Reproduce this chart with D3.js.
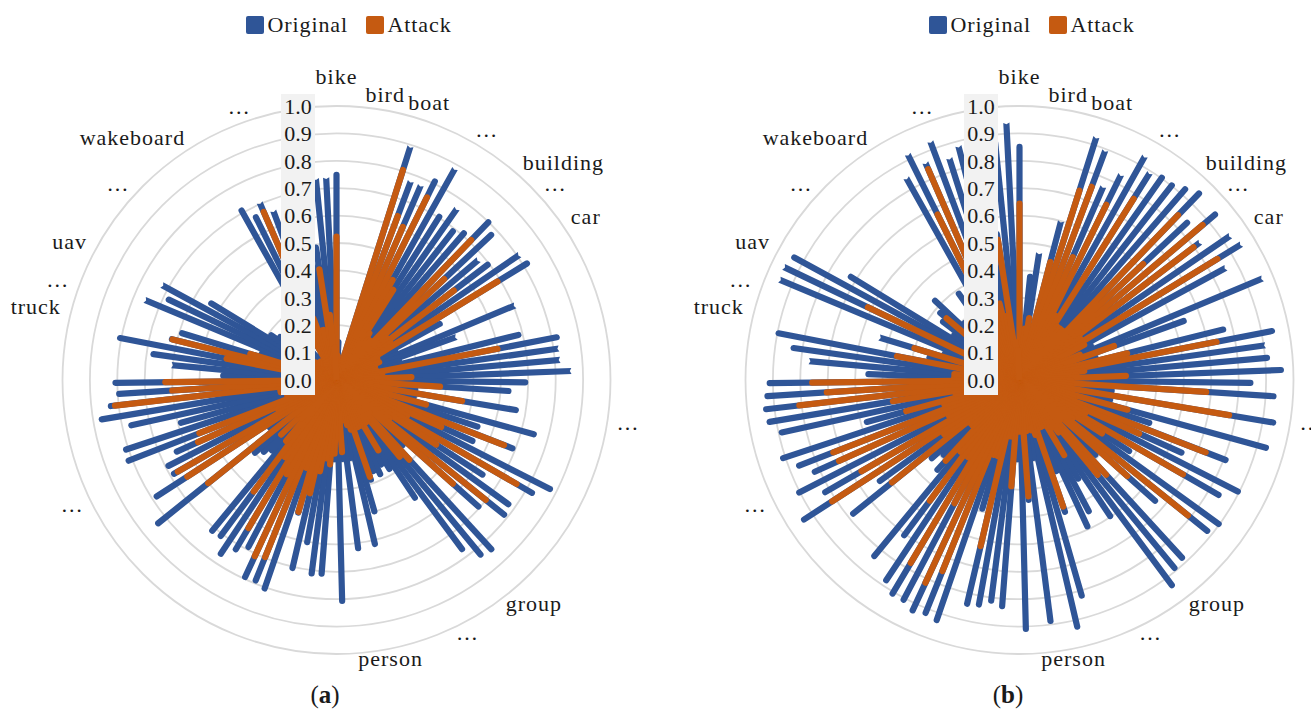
<!DOCTYPE html>
<html>
<head>
<meta charset="utf-8">
<style>
body { margin: 0; background: #fff; }
text { font-family: "Liberation Serif", serif; fill: #1a1a1a; }
</style>
</head>
<body>
<svg width="1311" height="711"></svg>
<script src="https://cdn.jsdelivr.net/npm/d3@7"></script>
<script>

// one value per sequence, clockwise from the top
var originalA = [.76,.15,.06,.05,.06,.07,.895,.775,.775,.82,.885,.715,.765,.70,.72,.81,.785,.68,.705,.81,.826,.44,.25,.707,.466,.25,.695,.83,.82,.82,.858,
  .70,.64,.3,.675,.3,.758,.553,.70,.555,.886,.835,.646,.785,.796,.705,.35,.848,.837,.78,.527,.389,.36,.39,.37,.396,.51,.626,.3,.63,.3,
  .818,.3,.72,.723,.613,.716,.515,.816,.80,.804,.70,.73,.773,.72,.724,.36,.384,.41,.846,.31,.793,.696,.70,.65,.825,.82,.6,.778,.88,.84,.806,
  .818,.425,.605,.686,.816,.63,.60,.3,.759,.69,.726,.547,.3,.27,.25,.2,.2,.15,.12,.1,.1,.72,.674,.706,.66,.5,.5,.5,.5,.74,.74];
var attackA = [.535,.1,.05,.04,.05,.06,.815,.65,.62,.755,.43,.4,.22,.2,.2,.72,.55,.25,.55,.25,.70,.18,.15,.18,.16,.15,.16,.61,.18,.16,.285,
  .14,.39,.16,.476,.16,.35,.2,.667,.43,.3,.77,.445,.25,.71,.58,.18,.405,.374,.2,.2,.31,.2,.2,.2,.385,.2,.18,.16,.15,.275,
  .13,.28,.32,.3,.35,.436,.512,.35,.708,.72,.4,.64,.35,.518,.3,.2,.295,.2,.612,.16,.66,.68,.25,.565,.548,.2,.2,.22,.22,.825,.612,
  .636,.2,.2,.2,.42,.628,.34,.16,.14,.14,.14,.14,.12,.12,.11,.1,.1,.1,.09,.08,.08,.18,.18,.68,.25,.2,.2,.15,.42,.25,.13];
var originalB = [.862,.2,.39,.47,.2,.6,.93,.895,.77,.837,.937,.894,.914,.913,.933,.956,.85,.946,.83,.933,.95,.858,.3,.962,.648,.3,.777,.95,.907,.918,.966,
  .854,.94,.35,.95,.35,.944,.51,.818,.659,.906,.85,.488,.908,.89,.674,.4,.89,.90,.944,.608,.43,.553,.60,.37,.52,.83,.936,.3,.898,.45,
  .92,.3,.839,.823,.844,.85,.5,.938,.928,.938,.918,.918,.889,.717,.844,.455,.4,.44,.79,.64,.948,.83,.914,.83,.874,.92,.589,.90,.936,.942,.933,
  .923,.563,.772,.844,.907,.35,.535,.3,.95,.955,.947,.733,.3,.362,.39,.434,.3,.25,.3,.396,.35,.846,.92,.865,.93,.85,.883,.6,.55,.88,.94];
var attackB = [.655,.15,.2,.24,.15,.456,.736,.764,.50,.725,.28,.793,.25,.25,.25,.846,.63,.887,.81,.28,.858,.28,.17,.25,.378,.17,.416,.744,.25,.22,.4,
  .2,.694,.2,.787,.2,.42,.22,.74,.49,.28,.70,.37,.25,.80,.538,.22,.48,.46,.25,.22,.33,.2,.2,.2,.50,.22,.2,.17,.2,.437,
  .2,.2,.40,.22,.22,.634,.3,.3,.763,.827,.52,.788,.35,.56,.35,.41,.25,.25,.608,.35,.826,.677,.3,.733,.74,.3,.44,.25,.48,.82,.716,
  .768,.25,.25,.22,.467,.2,.412,.17,.22,.625,.22,.2,.14,.14,.36,.17,.14,.12,.14,.14,.17,.25,.685,.85,.3,.3,.3,.25,.53,.15,.12];

// bars whose end is cut in rather than rounded
var notchedA = [6,7,8,10,12,17,19,23,24,28,29,30,94,100,102,115,116,121,122];
var notchedB = [3,5,6,7,8,9,10,11,18,19,20,21,23,28,94,98,100,101,113,114,115,116,117,118,122];

var labelNames = ["bike","bird","boat","…","building","…","car","…","group","…","person","…","truck","…","uav","…","wakeboard","…"];
var labelIndex = [0,2,5,10,14,16,19,34,49,53,60,83,97,99,102,107,112,117];
var ticks = [0,.1,.2,.3,.4,.5,.6,.7,.8,.9,1];
var seriesNames = ["Original","Attack"];
var seriesColors = ["#2f5597","#c55a11"];

var svg = d3.select("svg"),
    outer = 274,
    barWidth = 6.2,
    count = originalA.length;

var r = d3.scaleLinear().domain([0, 1]).range([0, outer]);
var angle = d3.scaleLinear().domain([0, count]).range([0, 360]);

function barPath(v, notched) {
  var h = r(v), w = barWidth / 2;
  if (notched) {
    return "M" + (-w) + ",0V" + (-h) + "L0," + (-h + 1.6) + "L" + w + "," + (-h) + "V0Z";
  }
  return "M" + (-w) + ",0V" + (-h + w) + "A" + w + "," + w + " 0 0 1 " + w + "," + (-h + w) + "V0Z";
}

function drawChart(cx, original, attack, notched, caption) {
  var g = svg.append("g").attr("transform", "translate(" + cx + ",380)");

  g.selectAll(".ring")
    .data(ticks.slice(1))
    .enter().append("circle")
      .attr("r", function(d) { return r(d); })
      .attr("fill", "none")
      .attr("stroke", "#d9d9d9")
      .attr("stroke-width", 1.8);

  g.selectAll(".orig")
    .data(original)
    .enter().append("path")
      .attr("transform", function(d, i) { return "rotate(" + angle(i) + ")"; })
      .attr("d", function(d, i) { return barPath(d, notched.indexOf(i) >= 0); })
      .attr("fill", seriesColors[0]);

  g.selectAll(".atk")
    .data(attack)
    .enter().append("path")
      .attr("transform", function(d, i) { return "rotate(" + angle(i) + ")"; })
      .attr("d", function(d) { return barPath(d, false); })
      .attr("fill", seriesColors[1]);

  // tick labels sit in a grey strip on top of the bars
  g.append("rect")
    .attr("x", -55.5).attr("y", -286)
    .attr("width", 34).attr("height", 301)
    .attr("fill", "#f2f2f2");

  g.selectAll(".tick")
    .data(ticks)
    .enter().append("text")
      .attr("x", -38.5)
      .attr("y", function(d) { return -r(d); })
      .attr("dy", "0.35em")
      .attr("text-anchor", "middle")
      .attr("font-size", 22)
      .text(function(d) { return d.toFixed(1); });

  g.selectAll(".cat")
    .data(labelNames)
    .enter().append("text")
      .attr("x", function(d, i) {
        var a = angle(labelIndex[i]) * Math.PI / 180;
        return 284 * Math.sin(a);
      })
      .attr("y", function(d, i) {
        var a = angle(labelIndex[i]) * Math.PI / 180;
        return -284 * Math.cos(a);
      })
      .attr("dy", function(d, i) {
        var k = labelIndex[i];
        if (k == 0) return "-0.55em";
        return k > 30 && k < 100 ? "0.12em" : "0.22em";
      })
      .attr("text-anchor", function(d, i) {
        var a = angle(labelIndex[i]);
        if (a == 0) return "middle";
        return a < 180 ? "start" : "end";
      })
      .attr("font-size", 22)
      .attr("letter-spacing", 1)
      .text(function(d) { return d; });

  // legend
  var legend = svg.append("g").attr("transform", "translate(" + (cx - 90.5) + ",16)");
  var legendX = [0, 120];
  seriesNames.forEach(function(name, i) {
    legend.append("rect")
      .attr("x", legendX[i]).attr("width", 18).attr("height", 18).attr("rx", 2)
      .attr("fill", seriesColors[i]);
    legend.append("text")
      .attr("x", legendX[i] + 21.5).attr("y", 16)
      .attr("font-size", 22)
      .attr("letter-spacing", 0.9)
      .text(name);
  });

  var cap = svg.append("text")
    .attr("x", cx - 11.5).attr("y", 703)
    .attr("text-anchor", "middle")
    .attr("font-size", 25);
  cap.append("tspan").text("(");
  cap.append("tspan").attr("font-weight", "bold").text(caption);
  cap.append("tspan").text(")");
}

drawChart(336.5, originalA, attackA, notchedA, "a");
drawChart(1019.5, originalB, attackB, notchedB, "b");

</script>
</body>
</html>
